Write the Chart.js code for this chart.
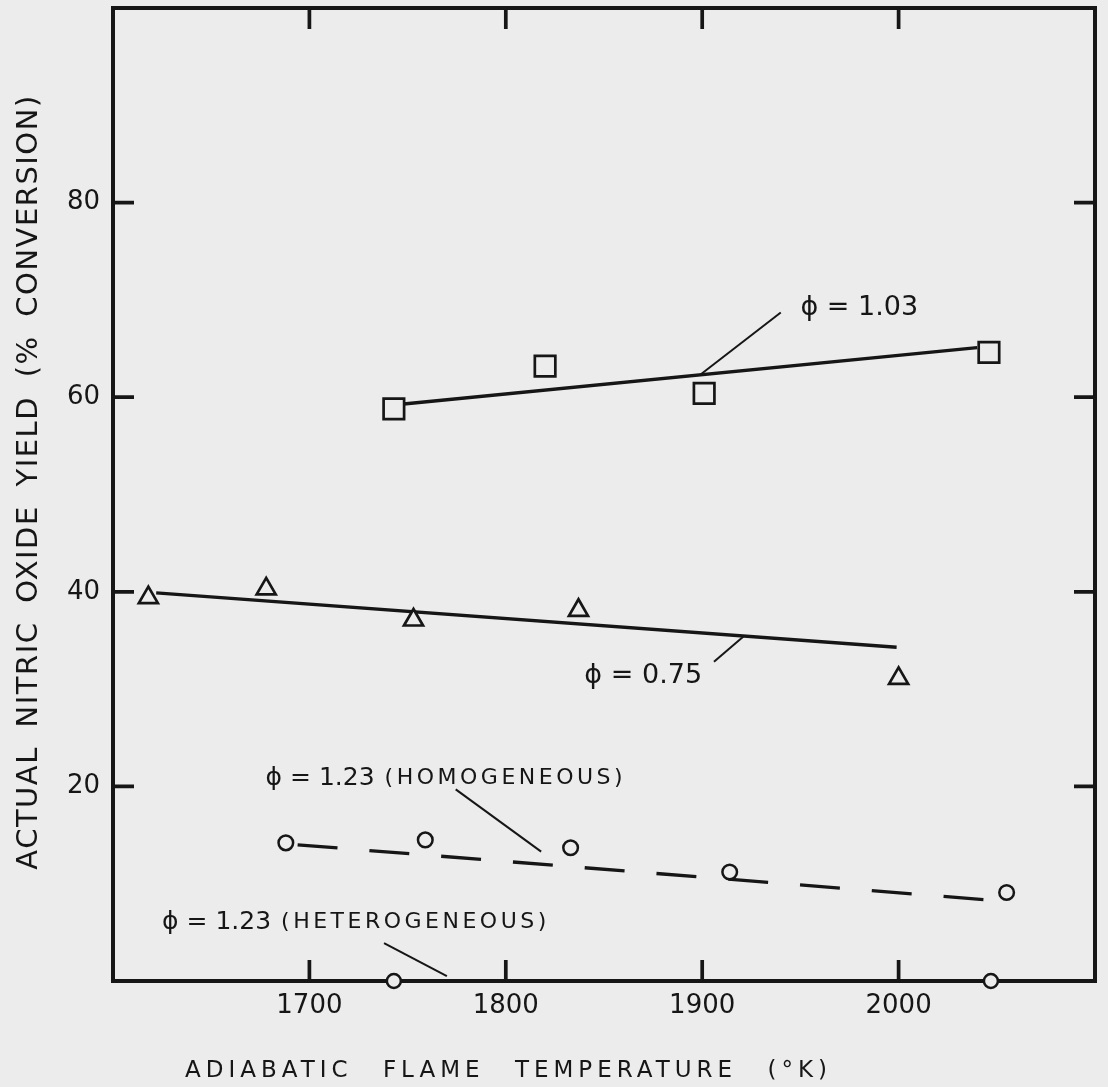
<!DOCTYPE html>
<html>
<head>
<meta charset="utf-8">
<script src="https://cdn.jsdelivr.net/npm/chart.js@4.4.1/dist/chart.umd.min.js"></script>
<style>
  html, body { margin: 0; padding: 0; background: #ececec; }
  #wrap { width: 1108px; height: 1087px; position: relative; }
  canvas { display: block; }
</style>
</head>
<body>
<div id="wrap"><canvas id="c" width="1108" height="1087"></canvas></div>
<script>
// ---------------- data ----------------
const xTickValues = [1700, 1800, 1900, 2000];
const yTickValues = [20, 40, 60, 80];

// phi = 1.03 (squares) and its fitted line
const phi103T = [1743, 1820, 1901, 2046];
const phi103V = [58.8, 63.2, 60.4, 64.6];
const phi103FitT = [1748, 2040];
const phi103FitV = [59.3, 65.1];

// phi = 0.75 (triangles) and its fitted line
const phi075T = [1618, 1678, 1753, 1837, 2000];
const phi075V = [39.4, 40.3, 37.1, 38.1, 31.1];
const phi075FitT = [1622, 1999];
const phi075FitV = [39.9, 34.3];

// phi = 1.23 homogeneous (circles) and its dashed line
const phi123HomT = [1688, 1759, 1833, 1914, 2055];
const phi123HomV = [14.2, 14.5, 13.7, 11.2, 9.1];
const phi123HomFitT = [1694, 2047];
const phi123HomFitV = [14.0, 8.3];

// phi = 1.23 heterogeneous (circles on the axis)
const phi123HetT = [1743, 2047];
const phi123HetV = [0, 0];

const xTitle = 'ADIABATIC FLAME TEMPERATURE (°K)';
const yTitle = 'ACTUAL NITRIC OXIDE YIELD (% CONVERSION)';

// curve labels, anchored in data units
const curveLabels = [
  { main: 'ϕ = 1.03', sub: '', T: 1950, V: 68.4, size: 27, leader: [[1940, 68.7], [1899, 62.3]] },
  { main: 'ϕ = 0.75', sub: '', T: 1840, V: 30.6, size: 27, leader: [[1906, 32.8], [1921, 35.4]] },
  { main: 'ϕ = 1.23', sub: '(HOMOGENEOUS)', T: 1677.7, V: 20.1, size: 25, leader: [[1774.5, 19.7], [1818, 13.3]] },
  { main: 'ϕ = 1.23', sub: '(HETEROGENEOUS)', T: 1625, V: 5.3, size: 25, leader: [[1738, 3.9], [1770, 0.5]] }
];

// ---------------- styling ----------------
const INK = '#161616';
const BG = '#ececec';
const FONT = '"DejaVu Sans", "Liberation Sans", sans-serif';

const pts = (T, V) => T.map((t, i) => ({ x: t, y: V[i] }));

const decor = {
  id: 'decor',
  afterDatasetsDraw(chart) {
    const ctx = chart.ctx;
    const ca = chart.chartArea;
    const xs = chart.scales.x, ys = chart.scales.y;
    ctx.save();
    ctx.strokeStyle = INK;
    ctx.fillStyle = INK;
    // top and right frame
    ctx.lineWidth = 4;
    ctx.beginPath();
    ctx.moveTo(ca.left - 2, ca.top);
    ctx.lineTo(ca.right + 2, ca.top);
    ctx.moveTo(ca.right, ca.top - 2);
    ctx.lineTo(ca.right, ca.bottom + 2);
    ctx.stroke();
    // inward tick marks on all four sides
    const TL = 21;
    ctx.lineWidth = 3.7;
    ctx.beginPath();
    xTickValues.forEach(v => {
      const px = xs.getPixelForValue(v);
      ctx.moveTo(px, ca.bottom); ctx.lineTo(px, ca.bottom - TL);
      ctx.moveTo(px, ca.top); ctx.lineTo(px, ca.top + TL);
    });
    yTickValues.forEach(v => {
      const py = ys.getPixelForValue(v);
      ctx.moveTo(ca.left, py); ctx.lineTo(ca.left + TL, py);
      ctx.moveTo(ca.right, py); ctx.lineTo(ca.right - TL, py);
    });
    ctx.stroke();

    // curve labels + leader lines
    ctx.lineWidth = 2;
    curveLabels.forEach(l => {
      const x0 = xs.getPixelForValue(l.T), y0 = ys.getPixelForValue(l.V);
      ctx.textAlign = 'left';
      ctx.textBaseline = 'alphabetic';
      ctx.letterSpacing = '0px';
      ctx.font = `${l.size}px ${FONT}`;
      ctx.fillText(l.main, x0, y0);
      if (l.sub) {
        const w = ctx.measureText(l.main).width;
        ctx.font = `22px ${FONT}`;
        ctx.letterSpacing = '3.5px';
        ctx.fillText(l.sub, x0 + w + 10, y0 - 1);
        ctx.letterSpacing = '0px';
      }
      ctx.beginPath();
      ctx.moveTo(xs.getPixelForValue(l.leader[0][0]), ys.getPixelForValue(l.leader[0][1]));
      ctx.lineTo(xs.getPixelForValue(l.leader[1][0]), ys.getPixelForValue(l.leader[1][1]));
      ctx.stroke();
    });

    // axis titles
    ctx.font = `23px ${FONT}`;
    ctx.letterSpacing = '5px';
    ctx.wordSpacing = '18px';
    ctx.textAlign = 'left';
    ctx.textBaseline = 'alphabetic';
    ctx.fillText(xTitle, 185, 1077);

    ctx.save();
    ctx.translate(37, 482);
    ctx.rotate(-Math.PI / 2);
    ctx.font = `29px ${FONT}`;
    ctx.letterSpacing = '1.5px';
    ctx.wordSpacing = '8px';
    ctx.textAlign = 'center';
    ctx.fillText(yTitle, 0, 0);
    ctx.restore();

    ctx.restore();
  }
};

const zeroPad = s => { s.paddingTop = 0; s.paddingBottom = 0; s.paddingLeft = 0; s.paddingRight = 0; };

new Chart(document.getElementById('c'), {
  type: 'scatter',
  data: {
    datasets: [
      { label: 'ϕ = 1.03 fit', data: pts(phi103FitT, phi103FitV), showLine: true, pointRadius: 0,
        borderColor: INK, borderWidth: 3.3, order: 2 },
      { label: 'ϕ = 0.75 fit', data: pts(phi075FitT, phi075FitV), showLine: true, pointRadius: 0,
        borderColor: INK, borderWidth: 3.3, order: 2 },
      { label: 'ϕ = 1.23 (homogeneous) fit', data: pts(phi123HomFitT, phi123HomFitV), showLine: true, pointRadius: 0,
        borderColor: INK, borderWidth: 3.3, borderDash: [40, 32], order: 2 },
      { label: 'ϕ = 1.03', data: pts(phi103T, phi103V), pointStyle: 'rect', pointRadius: 14.5,
        borderColor: INK, backgroundColor: BG, borderWidth: 2.7, order: 0 },
      { label: 'ϕ = 0.75', data: pts(phi075T, phi075V), pointStyle: 'triangle', pointRadius: 11,
        borderColor: INK, backgroundColor: BG, borderWidth: 2.7, order: 0 },
      { label: 'ϕ = 1.23 (homogeneous)', data: pts(phi123HomT, phi123HomV), pointStyle: 'circle', pointRadius: 7.3,
        borderColor: INK, backgroundColor: BG, borderWidth: 2.5, order: 0 },
      { label: 'ϕ = 1.23 (heterogeneous)', data: pts(phi123HetT, phi123HetV), pointStyle: 'circle', pointRadius: 7,
        borderColor: INK, backgroundColor: BG, borderWidth: 2.5, order: 0, clip: false }
    ]
  },
  options: {
    responsive: false,
    animation: false,
    events: [],
    layout: { autoPadding: false, padding: { top: 8, right: 13, left: 0, bottom: 0 } },
    plugins: { legend: { display: false }, tooltip: { enabled: false }, title: { display: false } },
    scales: {
      x: {
        type: 'linear', position: 'bottom', min: 1600, max: 2100,
        afterBuildTicks: s => { s.ticks = xTickValues.map(v => ({ value: v })); },
        afterFit: s => { s.height = 106; zeroPad(s); },
        grid: { display: true, drawOnChartArea: false, drawTicks: false },
        border: { display: true, color: INK, width: 4 },
        ticks: { color: INK, font: { family: FONT, size: 26 }, padding: 10, maxRotation: 0, autoSkip: false,
                 callback: v => String(v) },
        title: { display: false }
      },
      y: {
        type: 'linear', position: 'left', min: 0, max: 100,
        afterBuildTicks: s => { s.ticks = yTickValues.map(v => ({ value: v })); },
        afterFit: s => { s.width = 113; zeroPad(s); },
        grid: { display: true, drawOnChartArea: false, drawTicks: false },
        border: { display: true, color: INK, width: 4 },
        ticks: { color: INK, font: { family: FONT, size: 26 }, padding: 13, autoSkip: false,
                 callback: v => String(v) },
        title: { display: false }
      }
    }
  },
  plugins: [decor]
});
</script>
</body>
</html>
